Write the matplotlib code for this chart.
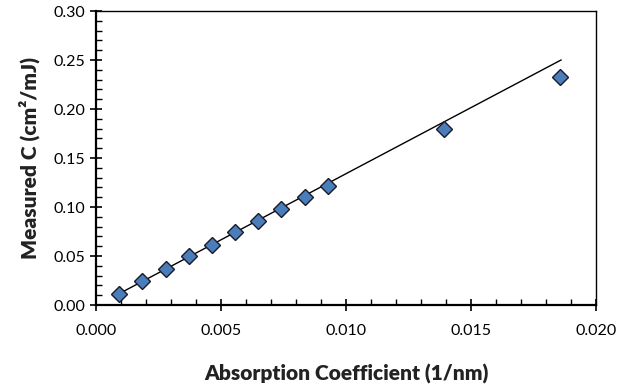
import numpy as np
import matplotlib
matplotlib.use("Agg")
import matplotlib.pyplot as plt
from matplotlib.ticker import MultipleLocator, FormatStrFormatter

# measured points
absorption = [0.00092, 0.00185, 0.00279, 0.00371, 0.00464, 0.00556,
              0.00649, 0.00741, 0.00835, 0.00927, 0.01392, 0.01856]
measured_c = [0.0116, 0.0245, 0.0371, 0.0497, 0.0616, 0.0742,
              0.0862, 0.0981, 0.1103, 0.1219, 0.1795, 0.2329]

# straight fit line (end points)
fit_x = [0.00092, 0.01860]
fit_y = [0.0115, 0.2500]

plt.rcParams['font.family'] = ['Lato', 'DejaVu Sans']

fig = plt.figure(figsize=(6.35, 3.88), dpi=100)
ax = fig.add_axes([0.1512, 0.2139, 0.7874, 0.7577])

ax.plot(fit_x, fit_y, color='black', lw=1.0, zorder=2)
ax.plot(absorption, measured_c, linestyle='none', marker='D', markersize=8.5,
        markerfacecolor='#4A7EBB', markeredgecolor='#1a1a2a', markeredgewidth=1.0,
        zorder=3)

ax.set_xlim(0, 0.020)
ax.set_ylim(0, 0.30)
ax.xaxis.set_major_locator(MultipleLocator(0.005))
ax.xaxis.set_minor_locator(MultipleLocator(0.001))
ax.yaxis.set_major_locator(MultipleLocator(0.05))
ax.yaxis.set_minor_locator(MultipleLocator(0.01))
ax.xaxis.set_major_formatter(FormatStrFormatter('%.3f'))
ax.yaxis.set_major_formatter(FormatStrFormatter('%.2f'))

ax.tick_params(which='major', direction='inout', length=9, width=1.2,
               labelsize=11.5, colors='black', pad=3)
ax.tick_params(which='minor', direction='in', length=4, width=1.0)
ax.tick_params(axis='x', which='major', pad=9)

for side in ['left', 'bottom']:
    ax.spines[side].set_linewidth(1.6)
for side in ['top', 'right']:
    ax.spines[side].set_linewidth(1.0)

ax.set_xlabel('Absorption Coefficient (1/nm)', fontsize=15, fontweight='heavy',
              labelpad=19, color='#222222')
ax.set_ylabel('Measured C (cm²/mJ)', fontsize=15, fontweight='heavy',
              labelpad=10, color='#222222')

fig.savefig('out.png', dpi=100)
